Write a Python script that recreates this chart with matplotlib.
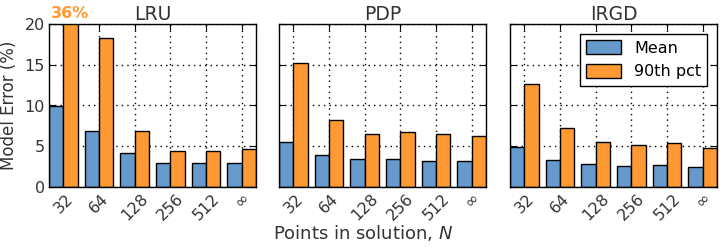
import numpy as np
import matplotlib.pyplot as plt

sizes = ["32", "64", "128", "256", "512", r"$\infty$"]
titles = ["LRU", "PDP", "IRGD"]
mean_err = [
    [9.9, 6.9, 4.2, 3.0, 3.0, 3.0],
    [5.55, 3.9, 3.45, 3.45, 3.25, 3.25],
    [4.95, 3.3, 2.8, 2.6, 2.75, 2.5],
]
p90_err = [
    [36.0, 18.3, 6.9, 4.45, 4.4, 4.7],
    [15.2, 8.25, 6.45, 6.8, 6.45, 6.3],
    [12.6, 7.3, 5.5, 5.1, 5.35, 4.75],
]

blue = "#6699cc"
orange = "#ff9933"
txt = "#333333"
w = 0.4

fig = plt.figure(figsize=(7.26, 2.47), dpi=100)
lefts = [49, 279, 510]
axes = []
for k in range(3):
    ax = fig.add_axes([lefts[k] / 726, 1 - 187 / 247, 207 / 726, 163 / 247])
    axes.append(ax)
    x = np.arange(len(sizes))
    ax.bar(x - w, mean_err[k], w, align="edge", color=blue, edgecolor="black",
           linewidth=1, label="Mean", zorder=2)
    ax.bar(x, p90_err[k], w, align="edge", color=orange, edgecolor="black",
           linewidth=1, label="90th pct", zorder=2)
    ax.set_xlim(-w, len(sizes) - 1 + w)
    ax.set_ylim(0, 20)
    ax.set_yticks([0, 5, 10, 15, 20])
    ax.set_xticks(x)
    ax.set_xticklabels(sizes, rotation=45, ha="center", fontsize=11.5, color=txt)
    ax.grid(True, linestyle=(0, (1, 3)), color="black", linewidth=1, zorder=0)
    ax.set_axisbelow(True)
    ax.tick_params(direction="in", top=True, right=True, length=4, labelsize=11.5,
                   labelcolor=txt, pad=3)
    ax.set_title(titles[k], fontsize=13.5, pad=3, color=txt)
    for s in ax.spines.values():
        s.set_linewidth(1)
    if k > 0:
        ax.set_yticklabels([])

axes[0].set_ylabel("Model Error (%)", fontsize=12, color=txt, labelpad=5)
axes[0].text(0 + w / 2, 20.4, "%d%%" % p90_err[0][0], color=orange, fontsize=11.5,
             fontweight="bold", ha="center", va="bottom")
axes[2].legend(loc="upper right", fontsize=11.5, fancybox=False, edgecolor="black",
               handlelength=2.2, handleheight=1.0, borderaxespad=0.6, framealpha=1)
fig.text(0.5, 1 - 233 / 247, r"Points in solution, $N$", ha="center", va="center",
         fontsize=13, color=txt)

plt.savefig("out.png", dpi=100)
